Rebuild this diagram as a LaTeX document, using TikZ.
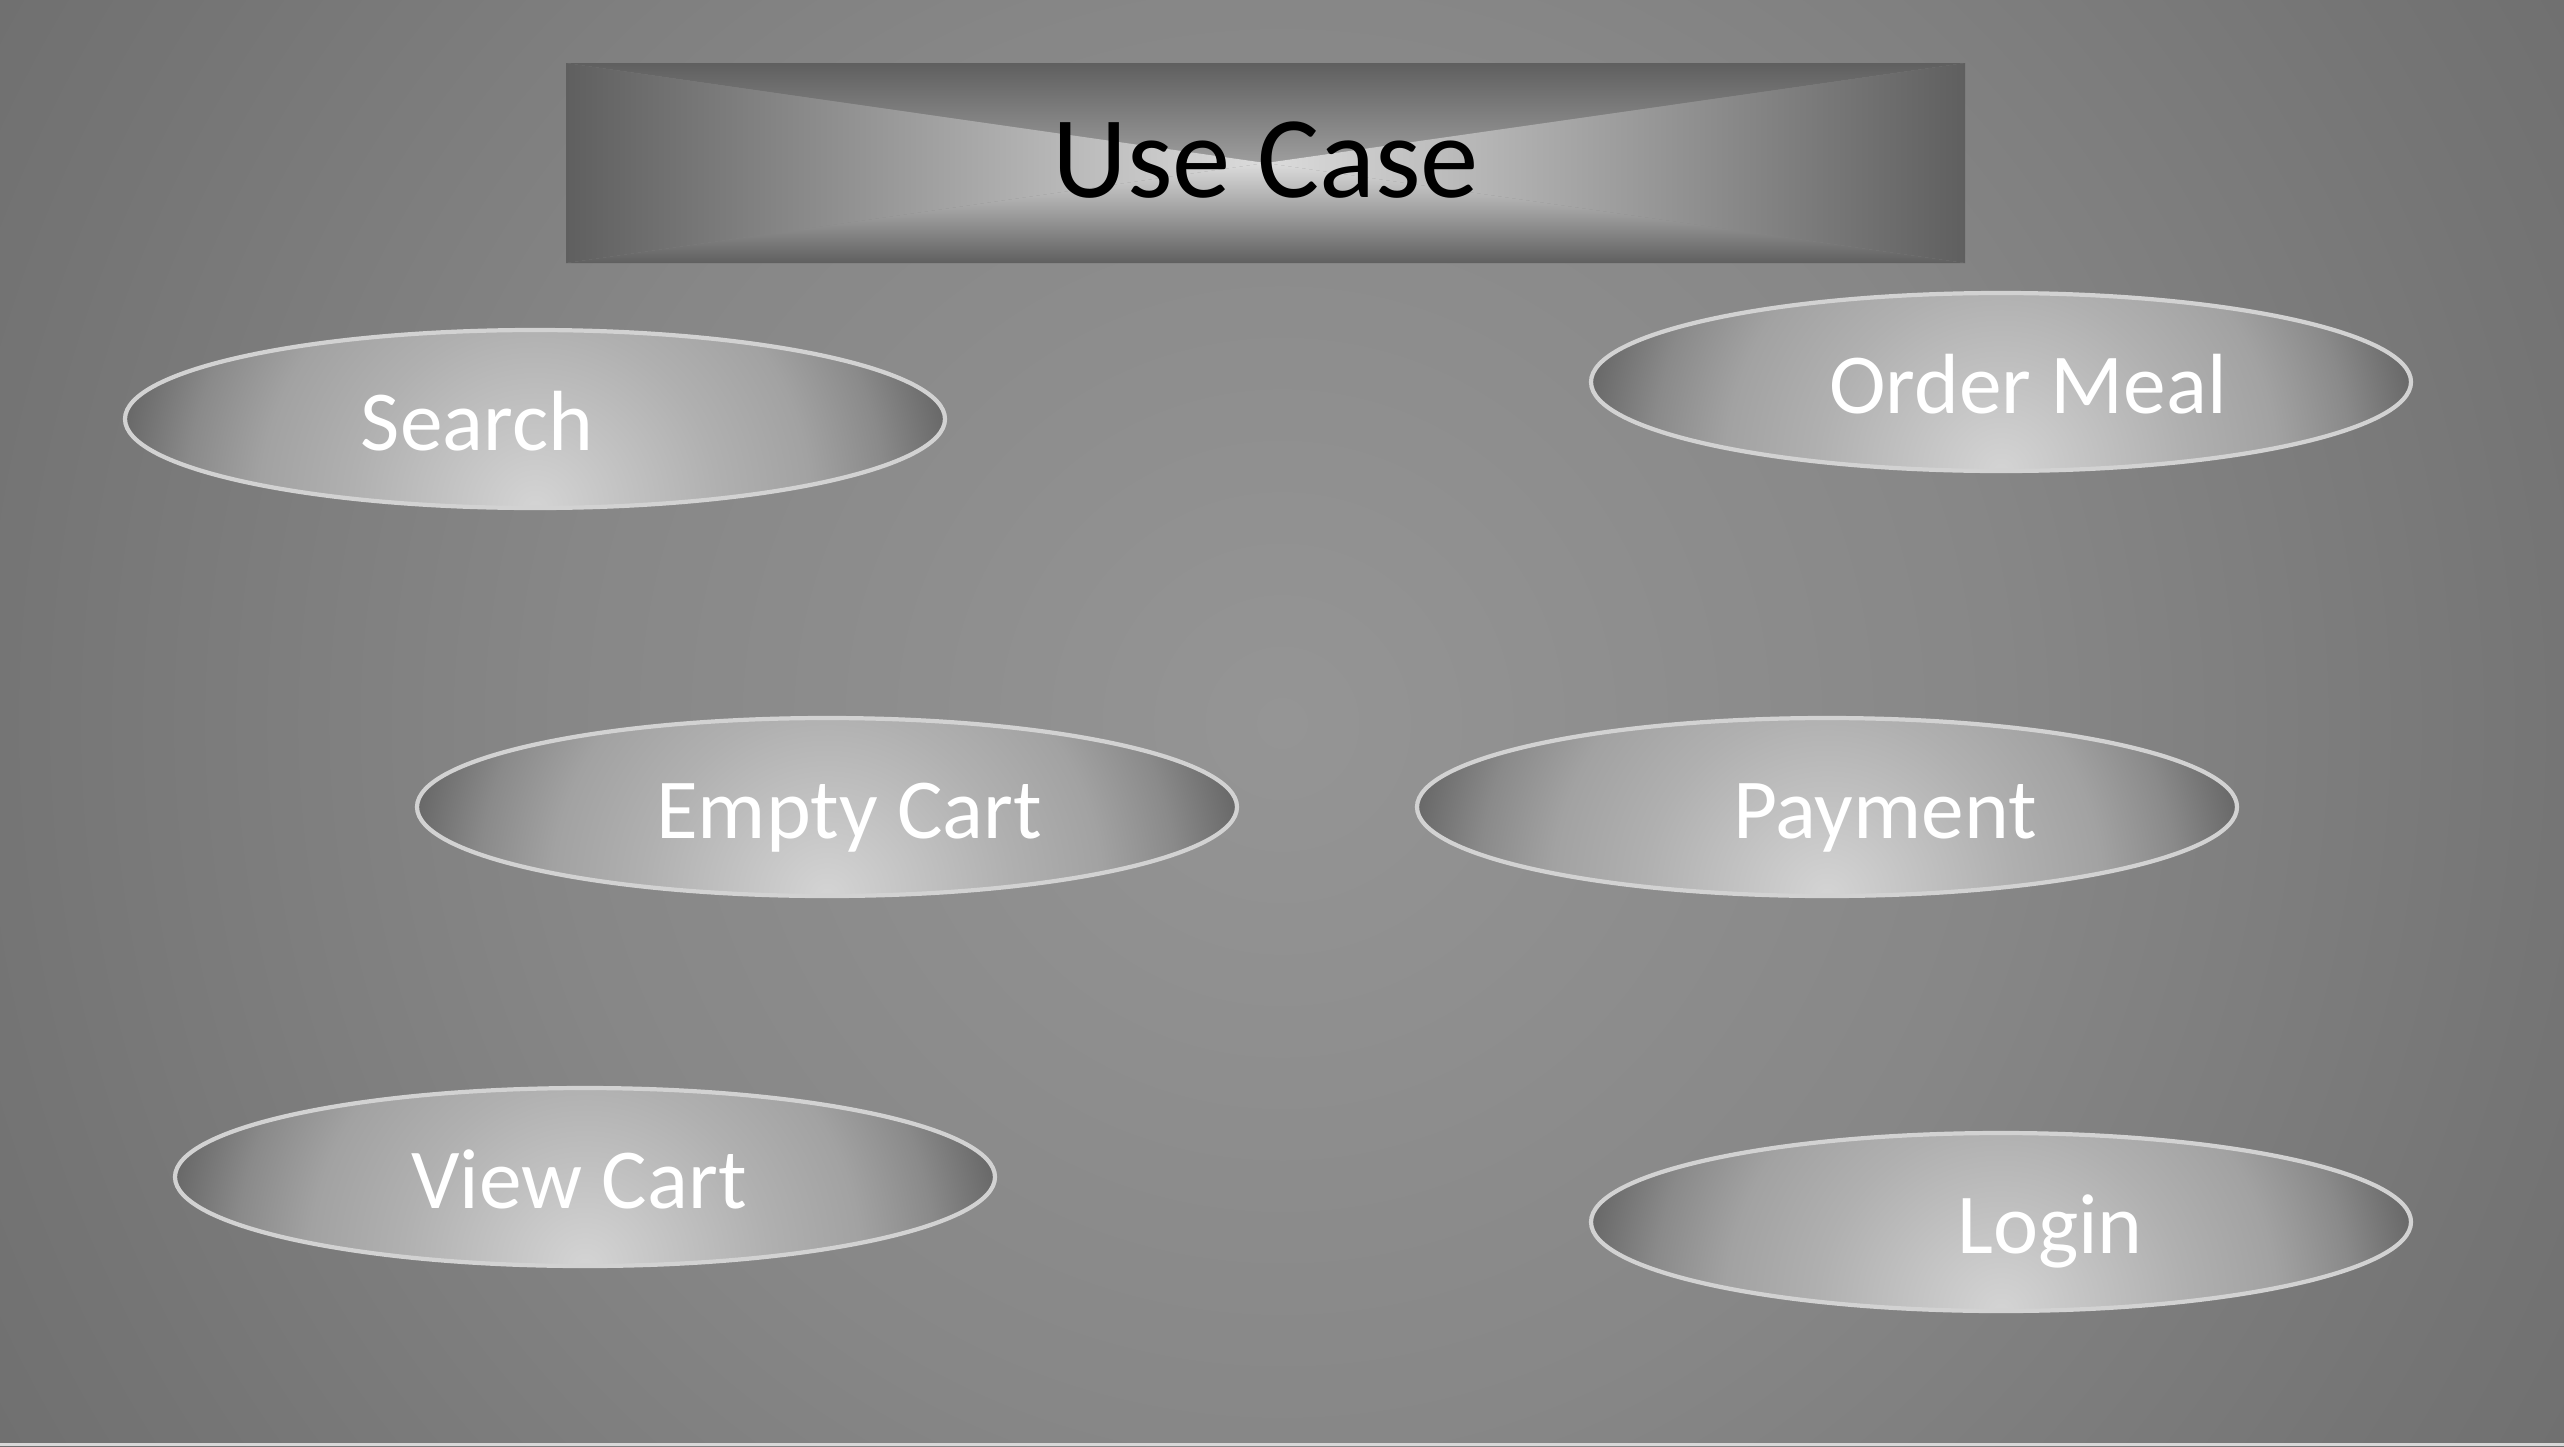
\documentclass[tikz,border=0pt]{standalone}
\usepackage{fontspec}
\setmainfont{Carlito}
\usepackage{tikz}
\usetikzlibrary{shapes.geometric}
\usetikzlibrary{positioning}

\definecolor{bgin}{HTML}{959595}
\definecolor{bgmid}{HTML}{878787}
\definecolor{bgout}{HTML}{757575}
\definecolor{bgcorner}{HTML}{707070}
\definecolor{ovalline}{HTML}{D2D2D2}
\definecolor{ovalA}{HTML}{D4D4D4}
\definecolor{ovalB}{HTML}{B0B0B0}
\definecolor{ovalC}{HTML}{A2A2A2}
\definecolor{ovalD}{HTML}{8A8A8A}
\definecolor{ovalE}{HTML}{666666}
\definecolor{ovalF}{HTML}{606060}
\definecolor{titleedge}{HTML}{5F5F5F}
\definecolor{titlemid}{HTML}{DCDCDC}
\definecolor{footline}{HTML}{D8D8D8}

\pgfdeclareradialshading{bgglow}{\pgfpoint{0bp}{0bp}}{color(0bp)=(bgin); color(12.25bp)=(bgmid); color(21.75bp)=(bgout); color(25bp)=(bgcorner); color(50bp)=(bgcorner)}
\pgfdeclareradialshading{ovalglow}{\pgfpoint{0bp}{0bp}}{color(0bp)=(ovalA); color(10bp)=(ovalB); color(15bp)=(ovalC); color(19bp)=(ovalD); color(23bp)=(ovalE); color(25bp)=(ovalF); color(50bp)=(ovalF)}

\begin{document}
\begin{tikzpicture}[
    usecase/.style={ellipse,draw=ovalline,line width=1.2pt,minimum width=8.2cm,minimum height=1.78cm,inner sep=0pt,
      path picture={\shade[shading=ovalglow] ([xshift=-4.6cm,yshift=-4.6cm]path picture bounding box.south) rectangle ([xshift=4.6cm,yshift=4.6cm]path picture bounding box.south);}},
    casetext/.style={text=white,anchor=base,inner sep=0pt,font=\fontsize{24.3}{29}\selectfont},
    titlebox/.style={rectangle,minimum width=13.99cm,minimum height=2cm,inner sep=0pt,
      path picture={
        \shade[top color=titleedge,bottom color=titlemid] (path picture bounding box.north west) -- (path picture bounding box.north east) -- (path picture bounding box.center) -- cycle;
        \shade[bottom color=titleedge,top color=titlemid] (path picture bounding box.south west) -- (path picture bounding box.south east) -- (path picture bounding box.center) -- cycle;
        \shade[left color=titleedge,right color=titlemid] (path picture bounding box.north west) -- (path picture bounding box.south west) -- (path picture bounding box.center) -- cycle;
        \shade[right color=titleedge,left color=titlemid] (path picture bounding box.north east) -- (path picture bounding box.south east) -- (path picture bounding box.center) -- cycle;}},
    titletext/.style={text=black,anchor=base,inner sep=0pt,font=\fontsize{33.2}{40}\selectfont}]

        % Background
        \useasboundingbox (0,0) rectangle (25.64,-14.46);
        \begin{scope}
            \clip (0,0) rectangle (25.64,-14.46);
            \shade[shading=bgglow] (-1.88,7.47) rectangle (27.52,-21.93);
        \end{scope}
        \fill[footline] (0,-14.43) rectangle (25.64,-14.46);

        % Title
        \node[titlebox] (title) at (12.655,-1.63) {};
        \node[titletext] (titlelabel) at ([yshift=-0.34cm]title.center) {Use Case};

        % Use case ovals
        \node[usecase] (search) at (5.35,-4.19) {};
        \node[usecase] (ordermeal) at (20.01,-3.82) {};
        \node[usecase] (emptycart) at (8.27,-8.07) {};
        \node[usecase] (payment) at (18.27,-8.07) {};
        \node[usecase] (viewcart) at (5.85,-11.77) {};
        \node[usecase] (login) at (20.01,-12.22) {};

        % Labels, set a little off centre as in the slide
        \node[casetext] (searchtxt) at ([xshift=-0.58cm,yshift=-0.31cm]search.center) {Search};
        \node[casetext] (ordermealtxt) at ([xshift=0.27cm,yshift=-0.31cm]ordermeal.center) {Order Meal};
        \node[casetext] (emptycarttxt) at ([xshift=0.22cm,yshift=-0.31cm]emptycart.center) {Empty Cart};
        \node[casetext] (paymenttxt) at ([xshift=0.58cm,yshift=-0.31cm]payment.center) {Payment};
        \node[casetext] (viewcarttxt) at ([xshift=-0.06cm,yshift=-0.31cm]viewcart.center) {View Cart};
        \node[casetext] (logintxt) at ([xshift=0.49cm,yshift=-0.31cm]login.center) {Login};

\end{tikzpicture}
\end{document}
